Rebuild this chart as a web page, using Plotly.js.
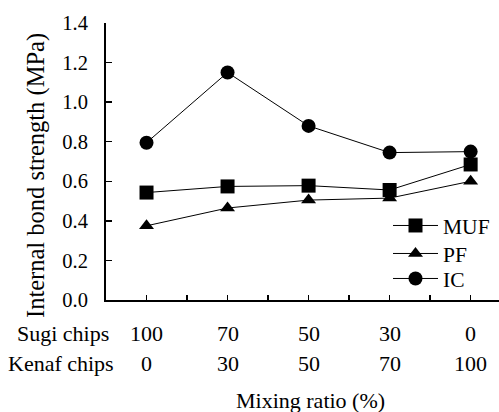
<!DOCTYPE html>
<html>
<head>
<meta charset="utf-8">
<script src="https://cdn.plot.ly/plotly-3.0.1.min.js"></script>
<style>html,body{margin:0;padding:0;background:#fff;}#chart{width:499px;height:412px;}</style>
</head>
<body>
<div id="chart"></div>
<script>
const xPos = [0, 1, 2, 3, 4];
const sugiChips = ['100', '70', '50', '30', '0'];
const kenafChips = ['0', '30', '50', '70', '100'];
const mufValues = [0.543, 0.574, 0.578, 0.556, 0.685];
const pfValues = [0.375, 0.465, 0.505, 0.515, 0.600];
const icValues = [0.795, 1.150, 0.880, 0.745, 0.750];
const seriesNames = ['MUF', 'PF', 'IC'];
const yTickVals = [0, 0.2, 0.4, 0.6, 0.8, 1.0, 1.2, 1.4];

const FONT = 'Liberation Serif';
const W = 499, H = 412;
const M = {l: 106, r: 0, t: 23, b: 112};
const pw = W - M.l - M.r, ph = H - M.t - M.b;
const px2x = p => (p - M.l) / pw;
const px2y = p => (H - M.b - p) / ph;

function mk(name, y, symbol, size, legendId) {
  return {
    x: xPos, y: y, name: name, type: 'scatter', mode: 'lines+markers',
    legend: legendId,
    line: {color: '#000', width: 1},
    marker: {symbol: symbol, size: size, color: '#000'}
  };
}
const traces = [
  mk(seriesNames[0], mufValues, 'square', 14, 'legend'),
  mk(seriesNames[1], pfValues, 'triangle-up', 13, 'legend2'),
  mk(seriesNames[2], icValues, 'circle', 14, 'legend3')
];

const txt = (size) => ({family: FONT, size: size, color: '#000'});
const annotations = [];
xPos.forEach((xv, i) => {
  annotations.push({xref: 'x', yref: 'paper', x: xv, y: px2y(333), yanchor: 'middle', xanchor: 'center',
    text: sugiChips[i], showarrow: false, font: txt(22)});
  annotations.push({xref: 'x', yref: 'paper', x: xv, y: px2y(363), yanchor: 'middle', xanchor: 'center',
    text: kenafChips[i], showarrow: false, font: txt(22)});
});
annotations.push({xref: 'paper', yref: 'paper', x: px2x(111), y: px2y(333), xanchor: 'right', yanchor: 'middle',
  text: 'Sugi chips', showarrow: false, font: txt(22)});
annotations.push({xref: 'paper', yref: 'paper', x: px2x(116), y: px2y(363), xanchor: 'right', yanchor: 'middle',
  text: 'Kenaf chips', showarrow: false, font: txt(22)});
annotations.push({xref: 'paper', yref: 'paper', x: px2x(310), y: px2y(400), xanchor: 'center', yanchor: 'middle',
  text: 'Mixing ratio (%)', showarrow: false, font: txt(22)});
annotations.push({xref: 'paper', yref: 'paper', x: px2x(36), y: px2y(176), xanchor: 'center', yanchor: 'middle',
  textangle: -90, text: 'Internal bond strength (MPa)', showarrow: false, font: txt(24.5)});

function legendAt(topPx) {
  return {
    x: px2x(388), y: px2y(topPx), xanchor: 'left', yanchor: 'top',
    bgcolor: 'rgba(0,0,0,0)', borderwidth: 0, itemwidth: 45,
    font: txt(21.5)
  };
}

const layout = {
  width: W, height: H,
  margin: M,
  paper_bgcolor: '#fff', plot_bgcolor: '#fff',
  font: txt(21),
  showlegend: true,
  legend: legendAt(205),
  legend2: legendAt(233),
  legend3: legendAt(258),
  xaxis: {
    range: [-0.5, 4.35], tickmode: 'linear', tick0: 0, dtick: 0.5,
    ticks: 'inside', ticklen: 5, tickwidth: 1.5, tickcolor: '#000',
    showticklabels: false, showline: true, linecolor: '#000', linewidth: 2,
    showgrid: false, zeroline: false, fixedrange: true
  },
  yaxis: {
    range: [0, 1.4], tickmode: 'array', tickvals: yTickVals,
    ticktext: yTickVals.map(v => v.toFixed(1)),
    ticks: 'inside', ticklen: 6, tickwidth: 1.5, tickcolor: '#000',
    ticklabelstandoff: 12,
    tickfont: txt(20.5),
    showline: true, linecolor: '#000', linewidth: 2,
    showgrid: false, zeroline: false, fixedrange: true
  },
  annotations: annotations
};

let drawn = false;
function draw() {
  if (drawn) return;
  drawn = true;
  Plotly.newPlot('chart', traces, layout, {staticPlot: true, displayModeBar: false});
}
if (document.fonts && document.fonts.load) {
  document.fonts.load('22px "Liberation Serif"').then(draw, draw);
  setTimeout(draw, 1500);
} else {
  draw();
}
</script>
</body>
</html>
